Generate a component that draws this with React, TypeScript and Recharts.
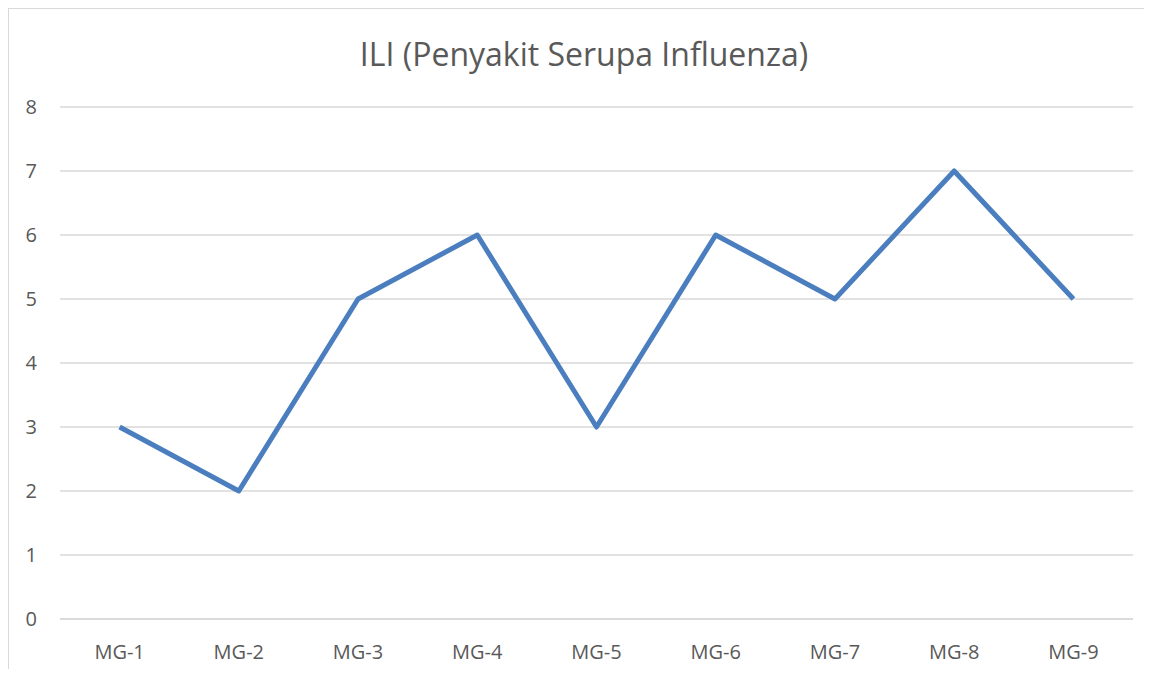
import { LineChart, Line, XAxis, YAxis, CartesianGrid } from "recharts";

const categories = ["MG-1", "MG-2", "MG-3", "MG-4", "MG-5", "MG-6", "MG-7", "MG-8", "MG-9"];
const iliCases = [3, 2, 5, 6, 3, 6, 5, 7, 5];
const yTicks = [0, 1, 2, 3, 4, 5, 6, 7, 8];

const data = categories.map((name, i) => ({ name, value: iliCases[i] }));

const FONT = "'Open Sans', 'Noto Sans', sans-serif";
const TEXT = "#595959";

export default function App() {
  return (
    <div
      style={{
        width: 1135,
        height: 660,
        borderTop: "1px solid #d9d9d9",
        borderLeft: "1px solid #d9d9d9",
        background: "#fff",
        overflow: "hidden",
      }}
    >
      <LineChart
        width={1135}
        height={660}
        data={data}
        margin={{ top: 98, right: 11, left: 0, bottom: 20 }}
      >
        <text
          x={575}
          y={48}
          textAnchor="middle"
          dominantBaseline="middle"
          fill={TEXT}
          style={{ fontFamily: FONT, fontSize: 32 }}
        >
          ILI (Penyakit Serupa Influenza)
        </text>
        <CartesianGrid vertical={false} stroke="#d9d9d9" strokeWidth={1.5} />
        <XAxis
          dataKey="name"
          padding={{ left: 59.6, right: 59.6 }}
          axisLine={{ stroke: "#d9d9d9", strokeWidth: 1.5 }}
          tickLine={false}
          tickSize={6}
          tickMargin={20}
          tick={{ fill: TEXT, fontSize: 20, fontFamily: FONT }}
        />
        <YAxis
          domain={[0, 8]}
          ticks={yTicks}
          width={51}
          axisLine={false}
          tickLine={false}
          tickSize={6}
          tickMargin={17}
          tick={{ fill: TEXT, fontSize: 20, fontFamily: FONT }}
        />
        <Line
          type="linear"
          dataKey="value"
          stroke="#4A7EBF"
          strokeWidth={5}
          strokeLinejoin="round"
          dot={false}
          activeDot={false}
          isAnimationActive={false}
        />
      </LineChart>
    </div>
  );
}
